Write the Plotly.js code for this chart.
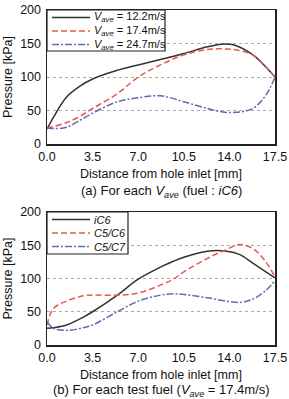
<!DOCTYPE html>
<html><head><meta charset="utf-8">
<script src="https://cdn.plot.ly/plotly-3.0.1.min.js"></script>
<style>body{margin:0;background:#fff}#c{width:289px;height:399px}</style>
</head><body><div id="c"></div>
<script>
// (a) For each Vave, fuel iC6
const xA = [0, 0.5, 1.5, 2.5, 3.5, 5.4, 7.0, 8.7, 10.5, 12.3, 13.4, 14.3, 15.8, 16.8, 17.5];
const v122 = [22, 40, 70, 86, 97, 110, 118, 126, 135, 145, 149, 148, 133, 115, 100];
const v174 = [24, 26, 32, 41, 53, 75, 100, 118, 133, 141, 142, 141, 133, 115, 100];
const v247 = [24, 23, 25, 35, 46, 63, 69, 72, 63, 53, 48, 47, 53, 73, 100];
// (b) For each test fuel, Vave = 17.4 m/s
const xB = [0, 0.5, 1.5, 2.8, 3.5, 5.4, 7.0, 8.7, 9.7, 10.5, 12.3, 13.8, 14.8, 15.8, 16.8, 17.5];
const iC6 = [25, 26, 30, 42, 50, 75, 99, 117, 126, 132, 141, 141, 136, 123, 110, 101];
const c5c6 = [30, 55, 66, 74, 75, 75, 78, 90, 99, 110, 130, 144, 151, 145, 125, 102];
const c5c7 = [35, 25, 22, 26, 30, 50, 66, 75, 77, 76, 71, 66, 64, 69, 82, 97];
const namesA = ['<i>V</i><sub><i>ave</i></sub> = 12.2m/s', '<i>V</i><sub><i>ave</i></sub> = 17.4m/s', '<i>V</i><sub><i>ave</i></sub> = 24.7m/s'];
const namesB = ['<i>iC6</i>', '<i>C5/C6</i>', '<i>C5/C7</i>'];
const xTicks = [0, 3.5, 7, 10.5, 14, 17.5];
const yTicks = [0, 50, 100, 150, 200];

const cols = ['#333333', '#e45a52', '#5c6db0'];
const dashes = ['solid', '6px,3px', '7px,2px,2px,2px'];
const traces = [];
[v122, v174, v247].forEach((y, i) => traces.push({x: xA, y: y, name: namesA[i], type: 'scatter', mode: 'lines', showlegend: false, line: {color: cols[i], width: 1.5, dash: dashes[i], shape: 'spline'}, xaxis: 'x', yaxis: 'y'}));
[iC6, c5c6, c5c7].forEach((y, i) => traces.push({x: xB, y: y, name: namesB[i], type: 'scatter', mode: 'lines', showlegend: false, line: {color: cols[i], width: 1.5, dash: dashes[i], shape: 'spline'}, xaxis: 'x2', yaxis: 'y2'}));

// pixel helpers for paper coords (plot area 47..275 x, 10..345 y)
const px = p => (p - 47) / 228;
const py = p => 1 - (p - 10) / 335;

const font = {family: 'Liberation Sans, Arial, sans-serif', size: 12.5, color: '#111'};
function xax(anchor) {
  return {anchor: anchor, domain: [0, 1], range: [0, 17.5], tickvals: xTicks, tickformat: '.1f', showgrid: false, zeroline: false,
    showline: true, mirror: true, linecolor: '#222', linewidth: 1.5, ticks: '', tickfont: {size: 12.5}};
}
function yax(anchor, dom) {
  return {anchor: anchor, domain: dom, range: [0, 200], tickvals: yTicks, showgrid: true, gridcolor: '#aaa', griddash: 'dot', gridwidth: 1,
    zeroline: false, showline: true, mirror: true, linecolor: '#222', linewidth: 1.5, ticks: '', ticklabelstandoff: 2,
    tickfont: {size: 12.5}, title: {text: 'Pressure [kPa]', font: {size: 12.5}, standoff: 5}};
}
const shapes = [];
const annotations = [];
function legend(names, top, bottom, right) {
  shapes.push({type: 'rect', xref: 'paper', yref: 'paper', x0: px(47), x1: px(right), y0: py(bottom), y1: py(top), fillcolor: '#fff', line: {color: '#222', width: 1.2}, layer: 'above'});
  names.forEach((n, i) => {
    const yy = py(top + 7.5 + i * 13.5);
    shapes.push({type: 'line', xref: 'paper', yref: 'paper', x0: px(52), x1: px(90), y0: yy, y1: yy, line: {color: cols[i], width: 1.5, dash: dashes[i]}, layer: 'above'});
    annotations.push({text: n, xref: 'paper', yref: 'paper', x: px(92), y: yy, xanchor: 'left', yanchor: 'middle', showarrow: false, font: {size: 11}});
  });
}
legend(namesA, 10, 51, 165);
legend(namesB, 212, 254, 128);
annotations.push(
  {text: 'Distance from hole inlet [mm]', xref: 'paper', yref: 'paper', x: 0.5, y: py(174), showarrow: false, xanchor: 'center', yanchor: 'middle', font: {size: 12.5}},
  {text: 'Distance from hole inlet [mm]', xref: 'paper', yref: 'paper', x: 0.5, y: py(375), showarrow: false, xanchor: 'center', yanchor: 'middle', font: {size: 12.5}},
  {text: '(a) For each <i>V</i><sub><i>ave</i></sub> (fuel : <i>iC6</i>)', xref: 'paper', yref: 'paper', x: 0.5, y: py(191), showarrow: false, xanchor: 'center', yanchor: 'middle', font: {size: 13}},
  {text: '(b) For each test fuel (<i>V</i><sub><i>ave</i></sub> = 17.4m/s)', xref: 'paper', yref: 'paper', x: 0.5, y: py(390), showarrow: false, xanchor: 'center', yanchor: 'middle', font: {size: 13}}
);
const layout = {
  width: 289, height: 399, margin: {l: 47, r: 14, t: 10, b: 54},
  paper_bgcolor: '#fff', plot_bgcolor: '#fff', font: font, showlegend: false,
  xaxis: xax('y'),
  yaxis: yax('x', [0.6, 1]),
  xaxis2: xax('y2'),
  yaxis2: yax('x2', [0, 0.397]),
  shapes: shapes,
  annotations: annotations
};
Plotly.newPlot('c', traces, layout, {displayModeBar: false, staticPlot: true});
</script></body></html>
